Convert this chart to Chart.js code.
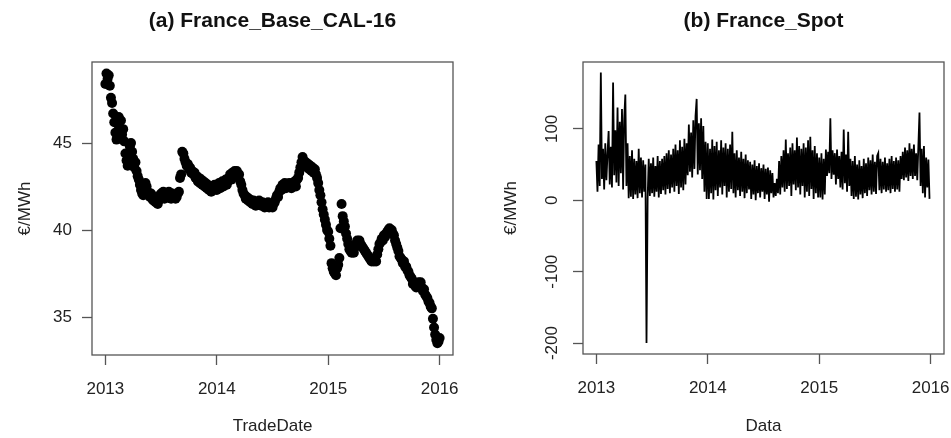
<!DOCTYPE html>
<html>
<head>
<meta charset="utf-8">
<script src="https://cdn.jsdelivr.net/npm/chart.js@4/dist/chart.umd.min.js"></script>
<style>
  html, body { margin: 0; padding: 0; background: #fff; }
  .panel { position: absolute; top: 0; }
  #left { left: 0; }
  #right { left: 476px; }
</style>
</head>
<body>
<div class="panel" id="left"><canvas id="cal16" width="476" height="438"></canvas></div>
<div class="panel" id="right"><canvas id="spot" width="475" height="438"></canvas></div>
<script>
// (a) France_Base_CAL-16 settlement price (EUR/MWh), 100 readings per year
var cal2013 = [
  48.4, 49.0, 48.7, 48.9, 48.3, 47.6, 47.3, 46.7, 46.2, 45.6,
  45.2, 46.1, 46.5, 45.9, 46.3, 45.5, 45.8, 45.1, 44.4, 44.0,
  43.7, 44.3, 44.8, 45.0, 44.5, 44.1, 43.6, 43.9, 43.4, 43.1,
  42.9, 42.6, 42.3, 42.1, 42.0, 42.3, 42.7, 42.5, 42.2, 42.0,
  41.9, 42.1, 41.8, 41.7, 41.9, 41.6, 41.8, 41.5, 41.7, 42.0,
  42.1, 41.9, 42.2, 41.8, 42.0, 42.1, 41.9, 42.2, 42.0, 41.8,
  42.1, 41.9, 42.0, 41.8, 41.9, 42.1, 42.2, 43.0, 43.2, 44.5,
  44.4, 44.1, 43.9, 43.7, 43.8, 43.5, 43.6, 43.3, 43.4, 43.2,
  43.3, 43.0, 43.1, 42.8, 43.0, 42.7, 42.9, 42.6, 42.8, 42.5,
  42.7, 42.4, 42.6, 42.3, 42.5, 42.2, 42.4, 42.3, 42.6, 42.4
];
var cal2014 = [
  42.3, 42.5, 42.7, 42.4, 42.6, 42.8, 42.5, 42.7, 42.9, 42.6,
  42.8, 43.0, 43.2, 42.9, 43.3, 43.1, 43.4, 43.2, 43.4, 43.1,
  43.2, 42.8, 42.6, 42.3, 42.1, 42.0, 41.8, 41.9, 41.7, 41.8,
  41.6, 41.7, 41.5, 41.7, 41.6, 41.4, 41.6, 41.5, 41.7, 41.5,
  41.4, 41.6, 41.5, 41.3, 41.5, 41.4, 41.6, 41.3, 41.5, 41.4,
  41.3, 41.5, 41.6, 41.8, 42.0, 41.9, 42.2, 42.4, 42.3, 42.6,
  42.5, 42.7, 42.4, 42.6, 42.5, 42.7, 42.6, 42.4, 42.7, 42.6,
  42.8, 42.5, 42.9, 43.0, 43.3, 43.6, 43.9, 44.2, 44.0, 43.7,
  43.9, 43.6, 43.8, 43.5, 43.7, 43.4, 43.6, 43.3, 43.5, 43.2,
  43.0, 42.7, 42.3, 42.0, 41.6, 41.2, 40.9, 40.6, 40.3, 40.0
];
var cal2015 = [
  39.9, 39.5, 39.1, 38.1, 37.8, 37.6, 37.5, 37.4, 37.8, 38.0,
  38.4, 40.1, 41.5, 40.8, 40.5, 40.2, 39.8, 39.5, 39.2, 38.9,
  38.8, 38.7, 38.9, 38.7, 39.0, 39.2, 39.4, 39.3, 39.4, 39.2,
  39.1, 39.0, 38.9, 38.8, 38.7, 38.6, 38.5, 38.4, 38.3, 38.2,
  38.3, 38.2, 38.4, 38.2, 38.6, 38.9, 39.2, 39.3, 39.5, 39.4,
  39.7, 39.6, 39.8, 39.9, 40.0, 40.1, 39.9, 40.0, 39.8, 39.7,
  39.4, 39.2, 39.0, 38.8, 38.5, 38.4, 38.3, 38.1, 38.2, 37.9,
  37.9, 37.7, 37.6, 37.4, 37.3, 37.2, 36.9, 37.0, 36.8, 36.7,
  36.9, 37.0, 36.8, 37.0, 36.7, 36.5, 36.6, 36.3, 36.2, 36.1,
  35.9, 35.8, 35.6, 35.5, 34.9, 34.4, 34.0, 33.7, 33.5, 33.6
];
var calYears = [2013, 2014, 2015];

// (b) France_Spot — spot price (EUR/MWh), 100 readings per year
var spot2013 = [
  55, 12, 78, 20, 179, 30, 72, 15, 80, 28,
  65, 97, 22, 75, 18, 165, 35, 98, 25, 130,
  20, 110, 38, 128, 15, 115, 148, 20, 80, 3,
  62, 5, 70, 2, 58, 8, 55, 3, 72, 10,
  60, 4, 56, 12, 50, -200, 2, 58, 6, 52,
  10, 60, 5, 48, 12, 62, 4, 55, 9, 58,
  14, 62, 8, 66, 16, 70, 10, 64, 18, 72,
  12, 78, 20, 70, 9, 84, 18, 75, 14, 86,
  22, 80, 35, 106, 40, 95, 32, 112, 44, 118,
  142, 36, 108, 42, 115, 30, 104, 12, 82, 2
];
var spot2014 = [
  80, 2, 72, 10, 85, 1, 76, 14, 82, 6,
  70, 18, 84, 8, 74, 20, 80, 4, 72, 12,
  78, 16, 96, 10, 66, 4, 70, 14, 60, 6,
  68, 12, 58, 3, 64, 10, 56, 15, 54, 2,
  50, 8, 56, 0, 48, 10, 52, 4, 45, 12,
  50, 2, 44, 8, 46, -2, 42, 10, 38, 4,
  24, 6, 30, 10, 55, 8, 62, 18, 70, 12,
  85, 16, 66, 20, 74, 6, 80, 22, 70, 14,
  88, 18, 76, 8, 72, 20, 80, 4, 74, 12,
  84, 6, 89, 16, 70, 2, 76, 10, 66, 4
];
var spot2015 = [
  60, 4, 66, 1, 58, 8, 71, 34, 68, 38,
  115, 30, 70, 36, 66, 22, 71, 30, 62, 18,
  68, 15, 99, 24, 64, 12, 96, 20, 58, 6,
  55, 2, 62, 5, 50, 1, 56, 8, 48, 3,
  58, 10, 52, 6, 60, 14, 56, 8, 64, 12,
  54, 9, 62, 66, 14, 58, 10, 54, 15, 60,
  12, 52, 14, 58, 10, 62, 16, 55, 12, 60,
  15, 56, 12, 62, 30, 68, 28, 74, 32, 70,
  27, 80, 34, 72, 30, 78, 34, 66, 28, 76,
  123, 20, 72, 10, 76, 4, 60, 18, 57, 2
];
var spotYears = [2013, 2014, 2015];

var yearTicks = [2013, 2014, 2015, 2016];
var calTicks = [35, 40, 45];
var spotTicks = [-200, -100, 0, 100];

var FONT = 'Liberation Sans, Arial, Helvetica, sans-serif';
var INK = '#222';
var AXIS = '#555';

function toPoints(years, blocks) {
  var pts = [];
  blocks.forEach(function (arr, k) {
    arr.forEach(function (v, i) { pts.push({ x: years[k] + i / arr.length, y: v }); });
  });
  return pts;
}
var calPoints = toPoints(calYears, [cal2013, cal2014, cal2015]);
calPoints.push({ x: 2016, y: 33.8 });
var spotPoints = toPoints(spotYears, [spot2013, spot2014, spot2015]);

// R-style frame round the plot region
var boxPlugin = {
  id: 'rbox',
  afterDatasetsDraw: function (chart) {
    var a = chart.chartArea, ctx = chart.ctx;
    ctx.save();
    ctx.strokeStyle = AXIS;
    ctx.lineWidth = 1.3;
    ctx.strokeRect(a.left, a.top, a.right - a.left, a.bottom - a.top);
    ctx.restore();
  }
};

function fixTicks(list) {
  return function (scale) { scale.ticks = list.map(function (v) { return { value: v }; }); };
}

function xAxis(title, height) {
  return {
    type: 'linear', min: 2012.88, max: 2016.12,
    afterBuildTicks: fixTicks(yearTicks),
    afterFit: function (s) {
      s.height = height;
      // year labels may hang past the frame; don't let them shrink the plot
      s.paddingLeft = 0;
      s.paddingRight = 0;
    },
    border: { display: false },
    grid: { drawOnChartArea: false, drawTicks: true, tickLength: 10, tickColor: AXIS, tickWidth: 1.3 },
    ticks: { color: INK, font: { family: FONT, size: 17 }, padding: 14, maxRotation: 0,
      callback: function (v) { return String(v); } },
    title: { display: true, text: title, color: INK, font: { family: FONT, size: 17 }, padding: { top: 0, bottom: 1 } }
  };
}

function baseOptions(titleText, padRight) {
  return {
    responsive: false,
    animation: false,
    events: [],
    layout: { padding: { left: 0, right: padRight, top: 0, bottom: 0 } },
    plugins: {
      legend: { display: false },
      tooltip: { enabled: false },
      title: { display: true, text: titleText, fullSize: false, color: '#111',
        font: { family: FONT, size: 21, weight: 'bold' }, padding: { top: 9, bottom: 27.8 } }
    }
  };
}

var optA = baseOptions('(a) France_Base_CAL-16', 23);
optA.scales = {
  x: xAxis('TradeDate', 83),
  y: {
    type: 'linear', min: 32.82, max: 49.66,
    afterBuildTicks: fixTicks(calTicks),
    afterFit: function (s) { s.width = 92; },
    border: { display: false },
    grid: { drawOnChartArea: false, drawTicks: true, tickLength: 10, tickColor: AXIS, tickWidth: 1.3 },
    ticks: { color: INK, font: { family: FONT, size: 17 }, padding: 10 },
    title: { display: true, text: '€/MWh', color: INK, font: { family: FONT, size: 17 }, padding: { top: 15, bottom: 0 } }
  }
};

new Chart(document.getElementById('cal16'), {
  type: 'scatter',
  data: { datasets: [{ data: calPoints, backgroundColor: '#000', borderWidth: 0, pointRadius: 5 }] },
  options: optA,
  plugins: [boxPlugin]
});

var optB = baseOptions('(b) France_Spot', 7);
optB.scales = {
  x: xAxis('Data', 84),
  y: {
    type: 'linear', min: -215.3, max: 193.7,
    afterBuildTicks: fixTicks(spotTicks),
    afterFit: function (s) { s.width = 107; },
    border: { display: false },
    grid: { drawOnChartArea: false, drawTicks: true, tickLength: 10, tickColor: AXIS, tickWidth: 1.3 },
    ticks: { color: INK, font: { family: FONT, size: 17 }, padding: 4, minRotation: 90, maxRotation: 90, crossAlign: 'center' },
    title: { display: true, text: '€/MWh', color: INK, font: { family: FONT, size: 17 }, padding: { top: 25, bottom: 0 } }
  }
};

new Chart(document.getElementById('spot'), {
  type: 'line',
  data: { datasets: [{ data: spotPoints, borderColor: '#000', borderWidth: 1.8, pointRadius: 0, tension: 0, fill: false }] },
  options: optB,
  plugins: [boxPlugin]
});
</script>
</body>
</html>
